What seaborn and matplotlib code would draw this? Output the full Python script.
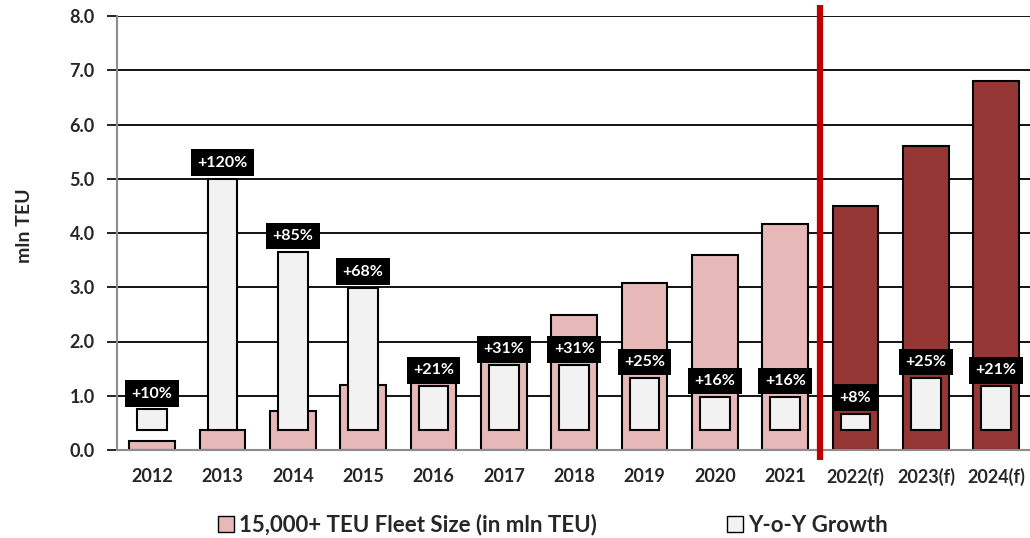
import matplotlib
matplotlib.use('Agg')
import matplotlib.pyplot as plt
import seaborn as sns
import pandas as pd
from matplotlib.patches import Patch

years = ['2012', '2013', '2014', '2015', '2016', '2017', '2018', '2019',
         '2020', '2021', '2022(f)', '2023(f)', '2024(f)']
fleet = [0.17, 0.37, 0.71, 1.19, 1.23, 1.65, 2.48, 3.08, 3.59, 4.16, 4.49, 5.60, 6.81]
growth = [10, 120, 85, 68, 21, 31, 31, 25, 16, 16, 8, 25, 21]
growth_labels = ['+10%', '+120%', '+85%', '+68%', '+21%', '+31%', '+31%',
                 '+25%', '+16%', '+16%', '+8%', '+25%', '+21%']
period = ['Actual'] * 10 + ['Forecast'] * 3

PINK = '#E6B9B8'
DARK = '#953735'
INNER = '#F2F2F2'

sns.set_theme(style='white')
plt.rcParams['font.family'] = ['Lato', 'DejaVu Sans']
plt.rcParams['font.weight'] = 'bold'

df = pd.DataFrame({'year': years, 'fleet': fleet, 'growth': growth, 'period': period})

fig = plt.figure(figsize=(10.3, 5.38), dpi=100)
ax = fig.add_axes([117 / 1030, 88 / 538, 913 / 1030, 434 / 538])

sns.barplot(data=df, x='year', y='fleet', hue='period',
            palette={'Actual': PINK, 'Forecast': DARK}, dodge=False,
            width=0.65, saturation=1, edgecolor='black', linewidth=1.5,
            legend=False, ax=ax)

ax.set_ylim(0, 8)
ax.set_xlim(-0.5, 12.48)
ax.set_yticks(range(0, 9))
ax.set_yticklabels([f'{v:.1f}' for v in range(0, 9)], fontsize=13, fontweight='bold')
for t in ax.get_xticklabels():
    t.set_fontsize(13)
    t.set_fontweight('bold')
ax.set_axisbelow(True)
ax.yaxis.grid(True, color='black', lw=1.3)
ax.tick_params(axis='y', length=7, width=1.2, color='black', direction='out', left=True, pad=9)
ax.tick_params(axis='x', length=0, pad=13)
ax.set_xlabel('')
ax.set_ylabel('mln TEU', fontsize=14, fontweight='bold')
ax.yaxis.set_label_coords(-0.092, 0.518)
for s in ['top', 'right']:
    ax.spines[s].set_visible(False)
for s in ['left', 'bottom']:
    ax.spines[s].set_color('#8C8C8C')
    ax.spines[s].set_linewidth(1.5)

# secondary axis for growth (0% sits at 0.36 mln TEU on the primary scale)
ax2 = ax.twinx()
scale = 0.0387
base = 0.36
sns.barplot(data=df, x='year', y='growth', color=INNER, saturation=1,
            width=0.42, edgecolor='black', linewidth=1.5, ax=ax2)
ax2.set_ylim(-base / scale, (8 - base) / scale)
ax2.set_xlim(-0.5, 12.48)
ax2.set_yticks([])
ax2.set_ylabel('')
ax2.set_xlabel('')
for s in ax2.spines.values():
    s.set_visible(False)

for i, (g, lab) in enumerate(zip(growth, growth_labels)):
    ax2.annotate(lab, (i, g), xytext=(0, 11.5), textcoords='offset points',
                 ha='center', va='center', color='white', fontsize=11.5,
                 fontweight='bold', zorder=5,
                 bbox=dict(boxstyle='square,pad=0.4', fc='black', ec='none'))

ax2.plot([9.5, 9.5], [-0.023, 1.025], transform=ax2.get_xaxis_transform(),
         color='#C00000', lw=4.5, clip_on=False, solid_capstyle='butt', zorder=6)

handles = [Patch(fc=PINK, ec='black', lw=1, label='15,000+ TEU Fleet Size (in mln TEU)'),
           Patch(fc=INNER, ec='black', lw=1, label='Y-o-Y Growth')]
fig.legend(handles=handles, loc='center', bbox_to_anchor=(553 / 1030, 13 / 538),
           ncol=2, frameon=False, handlelength=0.7, handleheight=0.7,
           handletextpad=0.25, columnspacing=5.85, prop={'weight': 'bold', 'size': 16})

fig.savefig('out.png', dpi=100)
